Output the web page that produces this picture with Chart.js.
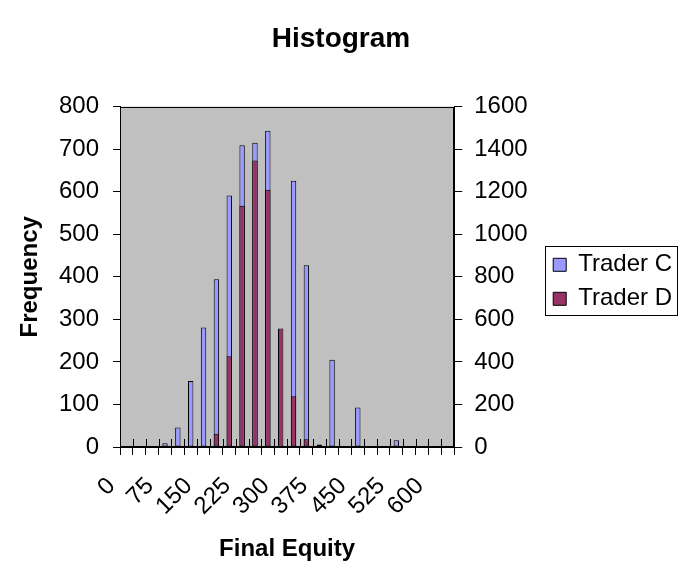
<!DOCTYPE html>
<html><head><meta charset="utf-8">
<script src="https://cdn.jsdelivr.net/npm/chart.js@4"></script>
<style>html,body{margin:0;padding:0;background:#fff}#wrap{width:682px;height:571px}</style>
</head><body><div id="wrap"><canvas id="c" width="682" height="571"></canvas></div>
<script>
const categories = [0,25,50,75,100,125,150,175,200,225,250,275,300,325,350,375,400,425,450,475,500,525,550,575,600,625];
const tickLabels = ['0','75','150','225','300','375','450','525','600'];
const traderC = [0,0,0,9,46,155,281,394,591,709,715,743,0,626,427,0,205,0,93,0,0,16,0,0,2,0];
const traderD = [0,0,0,0,0,0,0,62,426,1134,1347,1209,557,239,36,12,0,0,0,0,0,0,0,0,0,0];
const leftTicks = [0,100,200,300,400,500,600,700,800];
const rightTicks = [0,200,400,600,800,1000,1200,1400,1600];

const FONT = "Arial, 'Liberation Sans', sans-serif";

const plotFrame = {
  id: 'plotFrame',
  beforeDraw(chart) {
    const a = chart.chartArea, ctx = chart.ctx;
    ctx.save(); ctx.fillStyle = '#C0C0C0';
    ctx.fillRect(a.left, a.top, a.right - a.left, a.bottom - a.top);
    ctx.restore();
  },
  afterDatasetsDraw(chart) {
    const a = chart.chartArea, ctx = chart.ctx, xs = chart.scales.x;
    ctx.save(); ctx.strokeStyle = '#000'; ctx.lineWidth = 1;
    ctx.strokeRect(Math.round(a.left) + 0.5, Math.round(a.top) + 0.5, Math.round(a.right - a.left) - 1, Math.round(a.bottom - a.top) - 1);
    const n = categories.length, w = (xs.right - xs.left) / n;
    ctx.beginPath();
    for (let i = 0; i <= n; i++) {
      const x = Math.round(xs.left + i * w) + 0.5;
      ctx.moveTo(x, a.bottom - 8); ctx.lineTo(x, a.bottom);
    }
    ctx.stroke(); ctx.restore();
  },
  afterLayout(chart) {
    const lg = chart.legend, a = chart.chartArea;
    if (!lg) return;
    const dy = (a.top + 5) - lg.top;
    const h = a.bottom - a.top;
    lg.top += dy; lg.bottom = lg.top + h; lg.height = h;
    const pad = lg.options.labels.padding;
    const colH = lg.legendHitBoxes.reduce((s, hb) => s + hb.height + pad, 0);
    let top = (lg.top + pad + lg.bottom - colH) / 2;
    lg.legendHitBoxes.forEach(hb => { hb.top = top; top += hb.height + pad; });
  },
  afterDraw(chart) {
    const lg = chart.legend, ctx = chart.ctx;
    if (!lg || !lg.legendHitBoxes.length) return;
    const hbs = lg.legendHitBoxes;
    const l = Math.min(...hbs.map(h => h.left)) - 8;
    const r = Math.max(...hbs.map(h => h.left + h.width)) + 5;
    const t = Math.min(...hbs.map(h => h.top)) - 7;
    const b = Math.max(...hbs.map(h => h.top + h.height)) + 4;
    ctx.save(); ctx.strokeStyle = '#000'; ctx.lineWidth = 1;
    ctx.strokeRect(Math.round(l) + 0.5, Math.round(t) + 0.5, Math.round(r - l), Math.round(b - t));
    ctx.restore();
  }
};

new Chart(document.getElementById('c'), {
  type: 'bar',
  data: {
    labels: categories.map(String),
    datasets: [
      { label: 'Trader C', data: traderC, yAxisID: 'y', order: 2, backgroundColor: '#9999FF', borderColor: '#000', borderWidth: 1, borderSkipped: false, grouped: false, barPercentage: 0.42, categoryPercentage: 1 },
      { label: 'Trader D', data: traderD, yAxisID: 'y1', order: 1, backgroundColor: '#993366', borderColor: '#000', borderWidth: 1, borderSkipped: false, grouped: false, barPercentage: 0.42, categoryPercentage: 1 }
    ]
  },
  options: {
    responsive: false, devicePixelRatio: 1, animation: false,
    layout: { padding: { left: 0, right: 0, top: 0, bottom: 0 } },
    plugins: {
      title: { display: true, text: 'Histogram', color: '#000', font: { family: FONT, size: 28, weight: 'bold' }, padding: { top: 22, bottom: 51 } },
      legend: { position: 'right', reverse: true, maxWidth: 140, labels: { color: '#000', boxWidth: 13, boxHeight: 13, padding: 10, font: { family: FONT, size: 24 } } },
      tooltip: { enabled: false }
    },
    scales: {
      x: {
        offset: true,
        grid: { offset: true, drawOnChartArea: false, drawTicks: true, tickLength: 8, color: '#000' },
        border: { display: true, color: '#000' },
        ticks: { color: '#000', autoSkip: false, minRotation: 45, maxRotation: 45, padding: 17, labelOffset: -15, font: { family: FONT, size: 24 },
          callback: (v, i) => tickLabels.includes(categories[i].toString()) ? categories[i].toString() : '' },
        title: { display: true, text: 'Final Equity', color: '#000', font: { family: FONT, size: 24, weight: 'bold' }, padding: { top: 0, bottom: 7 } },
        afterFit: s => { s.height = 124; }
      },
      y: {
        position: 'left', min: 0, max: 800,
        afterBuildTicks: s => { s.ticks = leftTicks.map(v => ({ value: v })); },
        grid: { drawOnChartArea: false, drawTicks: true, tickLength: 7, color: '#000' },
        border: { display: true, color: '#000' },
        ticks: { color: '#000', padding: 14, font: { family: FONT, size: 24 }, callback: v => String(v) },
        title: { display: true, text: 'Frequency', color: '#000', font: { family: FONT, size: 24, weight: 'bold' }, padding: { top: 16, bottom: 0 } },
        afterFit: s => { s.width = 120; }
      },
      y1: {
        position: 'right', min: 0, max: 1600,
        afterBuildTicks: s => { s.ticks = rightTicks.map(v => ({ value: v })); },
        grid: { drawOnChartArea: false, drawTicks: true, tickLength: 8, color: '#000' },
        border: { display: true, color: '#000' },
        ticks: { color: '#000', padding: 12, font: { family: FONT, size: 24 }, callback: v => String(v) },
        afterFit: s => { s.width = 89; }
      }
    }
  },
  plugins: [plotFrame]
});
</script></body></html>
